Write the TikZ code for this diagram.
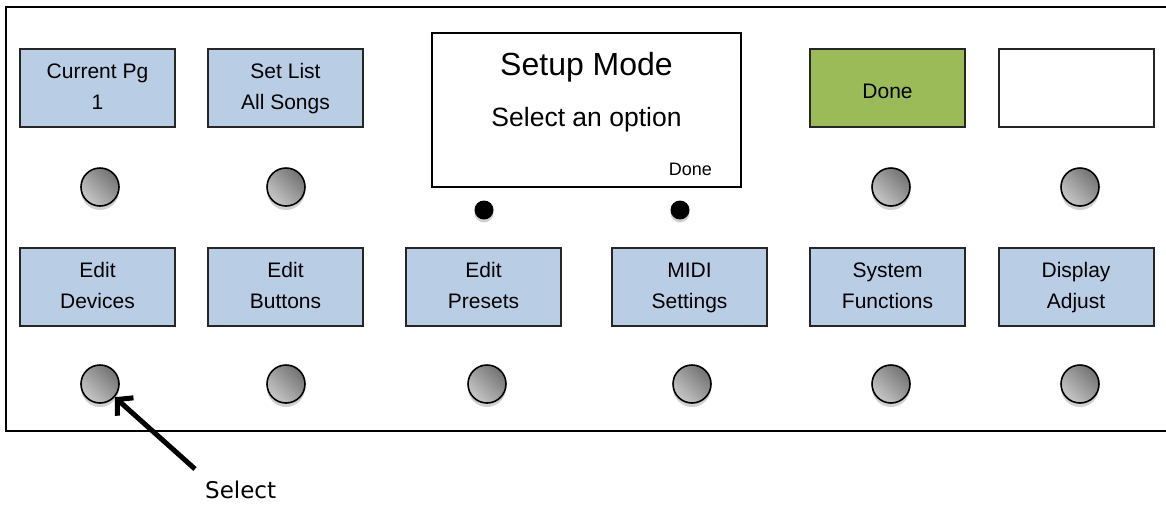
\documentclass[tikz,border=0pt]{standalone}
\usepackage{fontspec}
\setmainfont{Liberation Sans}
\newfontfamily\calloutfont{DejaVu Sans}
\usetikzlibrary{arrows.meta, shadows}

\definecolor{keyblue}{HTML}{B9CDE5}
\definecolor{keygreen}{HTML}{9BBB59}

\tikzset{
    keybox/.style={draw=black!85, line width=2pt, fill=keyblue, minimum width=155pt,
        minimum height=78pt, inner sep=0pt, align=center, font=\fontsize{21}{31}\selectfont},
    knob/.style={circle, draw=black, line width=1.6pt, minimum size=38pt, inner sep=0pt,
        top color=black!55, bottom color=black!22, shading angle=-45,
        drop shadow={shadow xshift=0pt, shadow yshift=-4pt, opacity=0.18, fill=black}},
    led/.style={circle, fill=black, minimum size=19pt, inner sep=0pt,
        drop shadow={shadow xshift=0pt, shadow yshift=-3pt, opacity=0.18, fill=black}},
}

\begin{document}
\begin{tikzpicture}[x=1pt, y=-1pt]
    \useasboundingbox (0,0) rectangle (1166,504);

    % Gehaeuse (rechts offen)
    \draw[line width=2pt] (1180,7) -- (6,7) -- (6,431) -- (1180,431);

    % obere Reihe
    \node[keybox] (t1) at (97.5,88) {\strut Current Pg\\\strut 1};
    \node[keybox] (t2) at (285.5,88) {\strut Set List\\\strut All Songs};
    \node[keybox, fill=keygreen] (t5) at (887.5,88) {};
    \node[anchor=base, font=\fontsize{21}{21}\selectfont] (t5text) at (887.5,98) {Done};
    \node[keybox, fill=white] (t6) at (1076,88) {};

    % Display
    \node[draw=black, line width=2pt, minimum width=309pt, minimum height=154pt] (lcd) at (586.5,110) {};
    \node[anchor=base, font=\fontsize{32}{32}\selectfont] (title) at (586.5,75) {Setup Mode};
    \node[anchor=base, font=\fontsize{26.5}{26.5}\selectfont] (prompt) at (586.5,126) {Select an option};
    \node[anchor=base east, inner sep=0pt, font=\fontsize{18}{18}\selectfont] (lcddone) at (712,175) {Done};

    \node[led] (led1) at (484,210) {};
    \node[led] (led2) at (680,210) {};

    % Taster oben
    \node[knob] (kt1) at (100,187) {};
    \node[knob] (kt2) at (286,187) {};
    \node[knob] (kt5) at (891,187) {};
    \node[knob] (kt6) at (1080,187) {};

    % untere Reihe
    \node[keybox] (b1) at (97.5,286.5) {\strut Edit\\\strut Devices};
    \node[keybox] (b2) at (285.5,286.5) {\strut Edit\\\strut Buttons};
    \node[keybox] (b3) at (483.5,286.5) {\strut Edit\\\strut Presets};
    \node[keybox] (b4) at (689.5,286.5) {\strut MIDI\\\strut Settings};
    \node[keybox] (b5) at (887.5,286.5) {\strut System\\\strut Functions};
    \node[keybox] (b6) at (1076,286.5) {\strut Display\\\strut Adjust};

    % Taster unten
    \node[knob] (kb1) at (100,384) {};
    \node[knob] (kb2) at (286,384) {};
    \node[knob] (kb3) at (487,384) {};
    \node[knob] (kb4) at (692,384) {};
    \node[knob] (kb5) at (891,384) {};
    \node[knob] (kb6) at (1080,384) {};

    % Hinweis
    \node[anchor=base west, inner sep=0pt, font=\calloutfont\fontsize{23}{23}\selectfont] (sel) at (205,498) {Select};
    \coordinate (tail) at (195,469);
    \draw[line width=5pt, -{Straight Barb[length=11pt, width=24pt]}] (tail) -- (kb1);
\end{tikzpicture}
\end{document}
